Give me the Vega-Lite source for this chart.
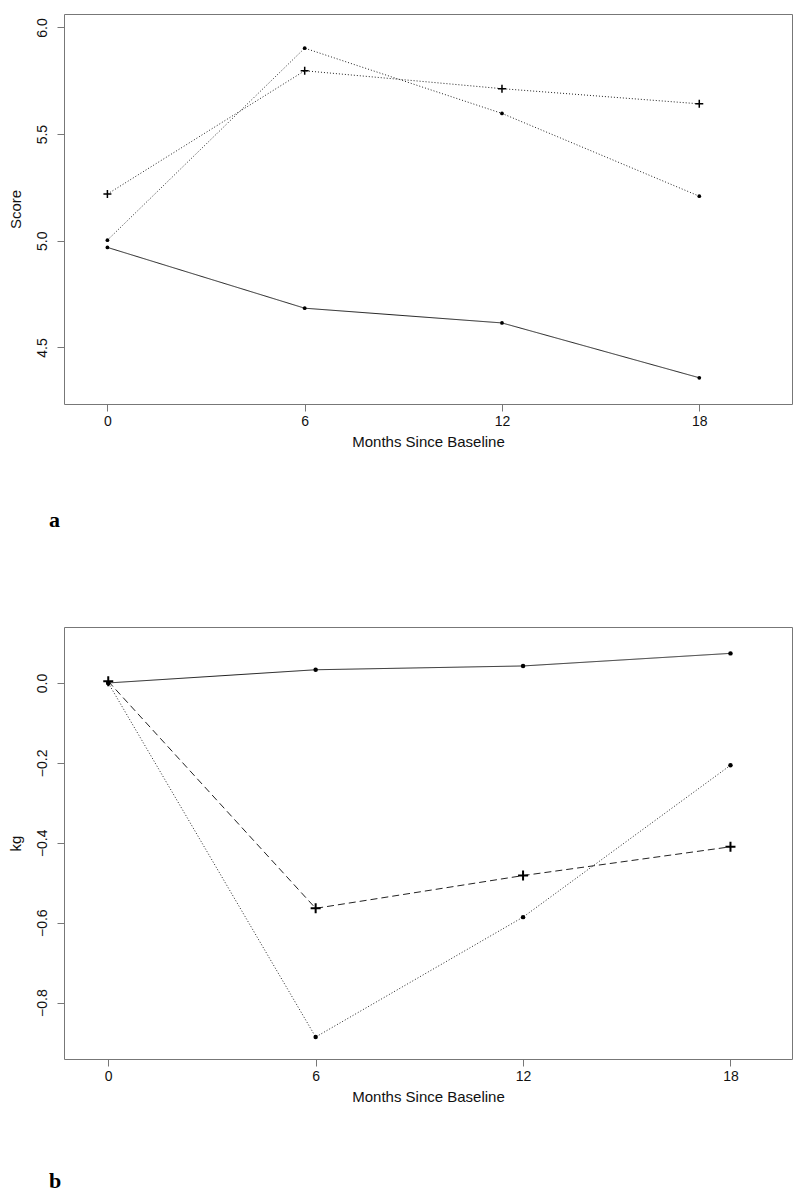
{
  "$schema": "https://vega.github.io/schema/vega-lite/v6.json",
  "background": "white",
  "padding": {"left": 7, "top": 13, "right": 8, "bottom": 5},
  "spacing": 94,
  "resolve": {"scale": {"strokeDash": "independent"}},
  "config": {
    "view": {"stroke": "#777777", "strokeWidth": 1},
    "axis": {
      "domain": false, "grid": false,
      "tickColor": "#777777", "tickSize": 7, "tickWidth": 1,
      "labelFont": "Liberation Sans", "labelFontSize": 14, "labelColor": "#111111",
      "titleFont": "Liberation Sans", "titleFontSize": 15, "titleFontWeight": "normal", "titleColor": "#111111"
    },
    "axisX": {"labelPadding": 3, "titlePadding": 6},
    "axisY": {"labelAngle": -90, "labelAlign": "center", "labelBaseline": "bottom", "labelPadding": 8, "titlePadding": 12},
    "title": {"font": "Liberation Serif", "fontSize": 22, "fontWeight": "bold", "color": "#000000", "orient": "bottom", "anchor": "start", "frame": "group"}
  },
  "datasets": {
    "a": [
      {"group": "A", "month": 0, "value": 4.969},
      {"group": "A", "month": 6, "value": 4.684},
      {"group": "A", "month": 12, "value": 4.615},
      {"group": "A", "month": 18, "value": 4.358},
      {"group": "B", "month": 0, "value": 5.003},
      {"group": "B", "month": 6, "value": 5.903},
      {"group": "B", "month": 12, "value": 5.597},
      {"group": "B", "month": 18, "value": 5.209},
      {"group": "C", "month": 0, "value": 5.219},
      {"group": "C", "month": 6, "value": 5.797},
      {"group": "C", "month": 12, "value": 5.713},
      {"group": "C", "month": 18, "value": 5.642}
    ],
    "b": [
      {"group": "A", "month": 0, "value": 0.0},
      {"group": "A", "month": 6, "value": 0.033},
      {"group": "A", "month": 12, "value": 0.0425},
      {"group": "A", "month": 18, "value": 0.074},
      {"group": "B", "month": 0, "value": 0.0},
      {"group": "B", "month": 6, "value": -0.886},
      {"group": "B", "month": 12, "value": -0.586},
      {"group": "B", "month": 18, "value": -0.206},
      {"group": "C", "month": 0, "value": 0.004},
      {"group": "C", "month": 6, "value": -0.564},
      {"group": "C", "month": 12, "value": -0.482},
      {"group": "C", "month": 18, "value": -0.41}
    ]
  },
  "vconcat": [
    {
      "width": 728, "height": 390,
      "title": {"text": "a", "offset": 61, "dx": -15},
      "data": {"name": "a"},
      "encoding": {
        "x": {"field": "month", "type": "quantitative", "scale": {"domain": [-1.32, 20.82], "nice": false, "zero": false}, "axis": {"values": [0, 6, 12, 18], "title": "Months Since Baseline"}},
        "y": {"field": "value", "type": "quantitative", "scale": {"domain": [4.235, 6.063], "nice": false, "zero": false}, "axis": {"values": [4.5, 5.0, 5.5, 6.0], "format": ".1f", "title": "Score"}}
      },
      "layer": [
        {
          "mark": {"type": "line", "color": "#222222", "strokeWidth": 1},
          "encoding": {
            "strokeDash": {"field": "group", "type": "nominal", "scale": {"domain": ["A", "B", "C"], "range": [[1, 0], [1, 2], [1, 2]]}, "legend": null}
          }
        },
        {
          "transform": [{"filter": "datum.group !== 'C'"}],
          "mark": {"type": "point", "filled": true, "color": "#000000", "size": 14, "opacity": 1}
        },
        {
          "transform": [{"filter": "datum.group === 'C'"}],
          "mark": {"type": "point", "shape": "M-1,0H1M0,-1V1", "filled": false, "stroke": "#000000", "strokeWidth": 1.5, "size": 64, "opacity": 1}
        }
      ]
    },
    {
      "width": 728, "height": 432,
      "title": {"text": "b", "offset": 67, "dx": -15},
      "data": {"name": "b"},
      "encoding": {
        "x": {"field": "month", "type": "quantitative", "scale": {"domain": [-1.28, 19.78], "nice": false, "zero": false}, "axis": {"values": [0, 6, 12, 18], "title": "Months Since Baseline"}},
        "y": {"field": "value", "type": "quantitative", "scale": {"domain": [-0.941, 0.14], "nice": false, "zero": false}, "axis": {"values": [-0.8, -0.6, -0.4, -0.2, 0.0], "format": ".1f", "title": "kg"}}
      },
      "layer": [
        {
          "mark": {"type": "line", "color": "#222222", "strokeWidth": 1},
          "encoding": {
            "strokeDash": {"field": "group", "type": "nominal", "scale": {"domain": ["A", "B", "C"], "range": [[1, 0], [1, 2], [7, 4]]}, "legend": null}
          }
        },
        {
          "transform": [{"filter": "datum.group !== 'C'"}],
          "mark": {"type": "point", "filled": true, "color": "#000000", "size": 20, "opacity": 1}
        },
        {
          "transform": [{"filter": "datum.group === 'C'"}],
          "mark": {"type": "point", "shape": "M-1,0H1M0,-1V1", "filled": false, "stroke": "#000000", "strokeWidth": 2, "size": 100, "opacity": 1}
        }
      ]
    }
  ]
}
